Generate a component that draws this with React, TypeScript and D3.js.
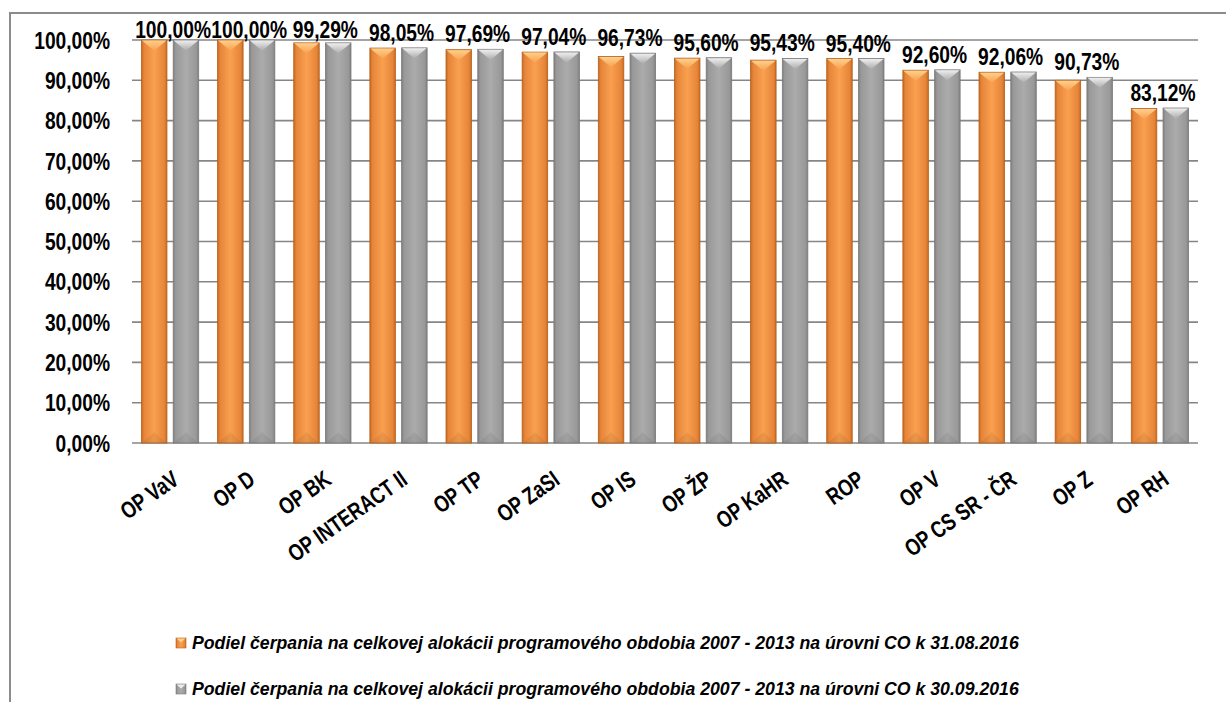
import * as d3 from 'd3';

const categories = ['OP VaV', 'OP D', 'OP BK', 'OP INTERACT II', 'OP TP', 'OP ZaSI', 'OP IS', 'OP ŽP', 'OP KaHR', 'ROP', 'OP V', 'OP CS SR - ČR', 'OP Z', 'OP RH'];
// podiel čerpania k 31.08.2016 (odčítané z grafu)
const augValues = [1.0, 1.0, 0.9929, 0.98, 0.976, 0.970, 0.959, 0.955, 0.950, 0.954, 0.925, 0.920, 0.900, 0.830];
// podiel čerpania k 30.09.2016
const sepValues = [1.0, 1.0, 0.9929, 0.9805, 0.9769, 0.9704, 0.9673, 0.956, 0.9543, 0.954, 0.926, 0.9206, 0.9073, 0.8312];
const seriesNames = [
  'Podiel čerpania na celkovej alokácii programového obdobia 2007 - 2013 na úrovni CO k 31.08.2016',
  'Podiel čerpania na celkovej alokácii programového obdobia 2007 - 2013 na úrovni CO k 30.09.2016',
];
const yTicks = [0, 0.1, 0.2, 0.3, 0.4, 0.5, 0.6, 0.7, 0.8, 0.9, 1.0];

const W = 1226, H = 702;
const plot = { left: 132, right: 1198, top: 40, bottom: 443 };
const NARROW = 0.8;
const ANGLE = 35;
const FONT = "'Liberation Sans', Arial, sans-serif";

const locale = d3.formatLocale({ decimal: ',', thousands: ' ', grouping: [3], currency: ['', ' €'] });
const pct = locale.format('.2%');

const palettes = [
  { id: 'or', edge: '#c8691f', mid: '#f9a04f', side: '#e6853a', cap: '#fdd08c', stroke: '#b5601c' },
  { id: 'gr', edge: '#7f7f7f', mid: '#ababab', side: '#999999', cap: '#eeeeee', stroke: '#7a7a7a' },
];

function Bar({ x, w, top, bottom, p }: { x: number; w: number; top: number; bottom: number; p: typeof palettes[0] }) {
  const c = w * 0.42;
  return (
    <g>
      <rect x={x} y={top} width={w} height={bottom - top} fill={`url(#h-${p.id})`} stroke={p.stroke} strokeWidth={0.8} />
      <polygon points={`${x + 0.5},${top + 0.5} ${x + w - 0.5},${top + 0.5} ${x + w / 2},${top + c}`} fill={`url(#c-${p.id})`} />
      <polygon points={`${x + 0.5},${bottom} ${x + w - 0.5},${bottom} ${x + w / 2},${bottom - c}`} fill="#000" opacity={0.06} />
    </g>
  );
}

export default function App() {
  const x = d3.scaleBand<string>().domain(categories).range([plot.left, plot.right]).paddingInner(0).paddingOuter(0);
  const y = d3.scaleLinear().domain([0, 1]).range([plot.bottom, plot.top]);
  const bw = x.bandwidth();
  const barW = bw * 0.335;
  const gap = bw * 0.082;
  const off = (bw - 2 * barW - gap) / 2;
  const series = [augValues, sepValues];

  return (
    <svg width={W} height={H} style={{ position: 'absolute', left: 0, top: 0, background: '#fff' }} fontFamily={FONT}>
      <defs>
        {palettes.map((p) => (
          <g key={p.id}>
            <linearGradient id={`h-${p.id}`} x1="0" x2="1" y1="0" y2="0">
              <stop offset="0" stopColor={p.edge} />
              <stop offset="0.1" stopColor={p.side} />
              <stop offset="0.5" stopColor={p.mid} />
              <stop offset="0.9" stopColor={p.side} />
              <stop offset="1" stopColor={p.edge} />
            </linearGradient>
            <linearGradient id={`c-${p.id}`} x1="0" x2="0" y1="0" y2="1">
              <stop offset="0" stopColor={p.cap} />
              <stop offset="1" stopColor={p.mid} />
            </linearGradient>
          </g>
        ))}
      </defs>

      <rect x={10} y={13} width={W + 20} height={H + 20} fill="none" stroke="#8c8c8c" strokeWidth={2} />

      {yTicks.map((t) => (
        <g key={t}>
          <line x1={plot.left} x2={plot.right} y1={y(t)} y2={y(t)} stroke="#868686" strokeWidth={1.6} />
          <text transform={`translate(110,${y(t)}) scale(${NARROW},1)`} dy="0.36em" textAnchor="end" fontSize={24} fontWeight="bold" fill="#000">
            {pct(t)}
          </text>
        </g>
      ))}

      {categories.map((c, i) => {
        const x0 = x(c)!;
        const base = Math.max(y(Math.max(augValues[i], sepValues[i])) - 7, 38);
        return (
          <g key={c}>
            {series.map((vals, s) => (
              <Bar key={s} x={x0 + off + s * (barW + gap)} w={barW} top={y(vals[i])} bottom={y(0)} p={palettes[s]} />
            ))}
            <text transform={`translate(${x0 + bw / 2 + 3},${base}) scale(${NARROW},1)`}
              textAnchor="middle" fontSize={24} fontWeight="bold" fill="#000">
              {pct(sepValues[i])}
            </text>
            <text transform={`translate(${x0 + bw / 2 + 10.5},${plot.bottom + 40}) rotate(${-ANGLE}) scale(0.78,1)`}
              textAnchor="end" fontSize={23.5} fontWeight="bold" fill="#000">
              {c}
            </text>
          </g>
        );
      })}

      {seriesNames.map((name, s) => {
        const ly = 649 + s * 46;
        const p = palettes[s];
        return (
          <g key={name}>
            <rect x={176} y={ly - 11} width={10} height={10} fill={`url(#h-${p.id})`} stroke={p.stroke} strokeWidth={0.6} />
            <polygon points={`176.5,${ly - 10.5} 185.5,${ly - 10.5} 181,${ly - 6.5}`} fill={p.cap} />
            <text x={192} y={ly} fontSize={17.7} fontWeight="bold" fontStyle="italic" fill="#000">{name}</text>
          </g>
        );
      })}
    </svg>
  );
}
